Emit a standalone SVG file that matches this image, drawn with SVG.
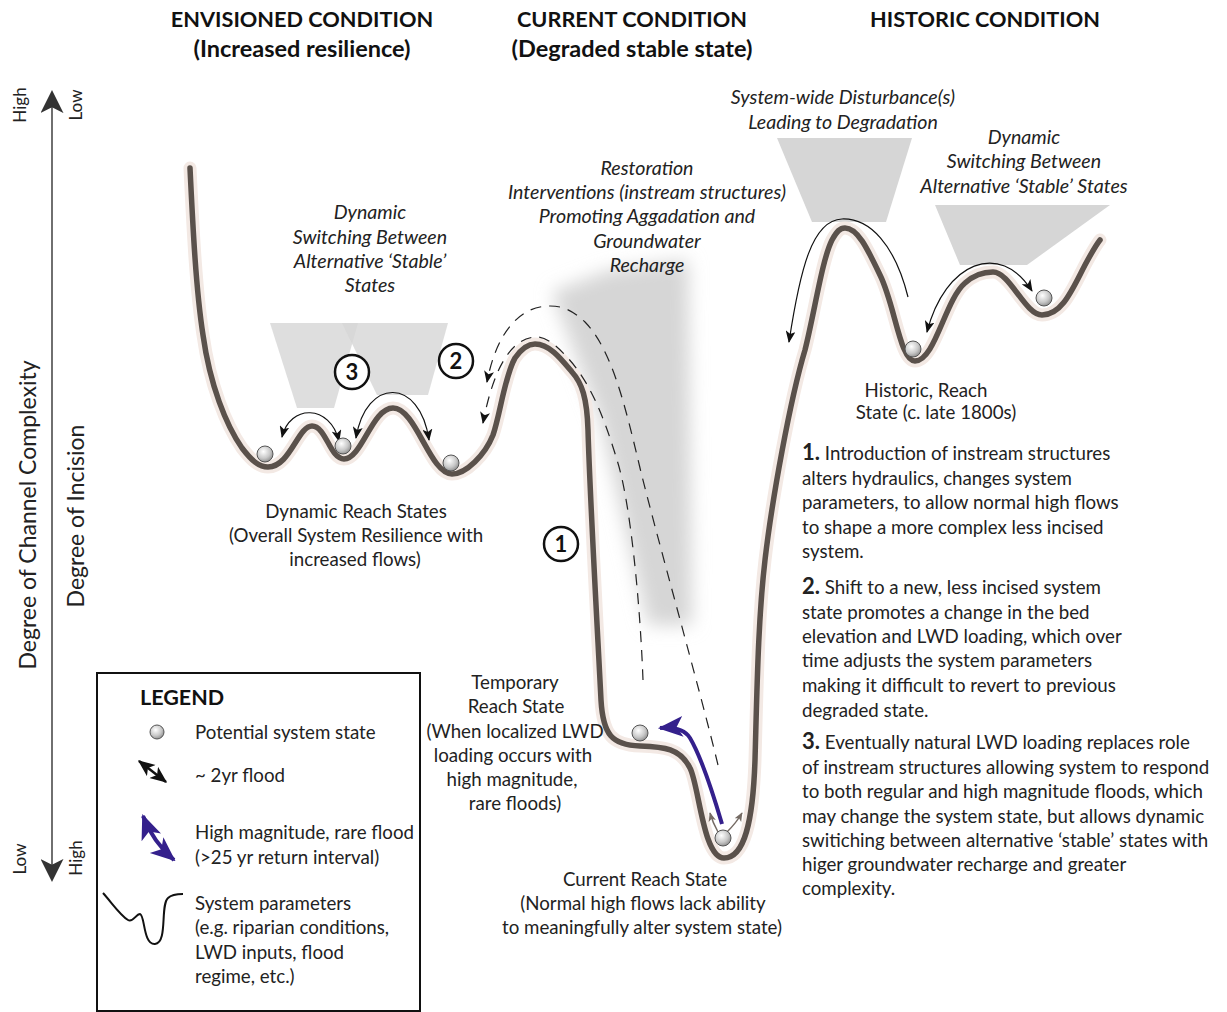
<svg xmlns="http://www.w3.org/2000/svg" width="1227" height="1012" viewBox="0 0 1227 1012">
<style>
.t{font-family:Lato,"Liberation Sans",sans-serif;font-size:18.7px;fill:#222}
.c{text-anchor:middle}
.i{font-style:italic;font-size:19.6px}
.h{font-family:Lato,"Liberation Sans",sans-serif;font-size:21.7px;font-weight:bold;fill:#111;text-anchor:middle}
.h2{font-size:23.5px}
.b{font-weight:bold;font-size:22px}
.ax{font-family:Lato,"Liberation Sans",sans-serif;font-size:23px;fill:#222;text-anchor:middle}
.sm{font-family:Lato,"Liberation Sans",sans-serif;font-size:17px;fill:#222;text-anchor:middle}
.shade{fill:#d6d6d6}
.arc{fill:none;stroke:#111;stroke-width:1.2}
.dash{fill:none;stroke:#222;stroke-width:1.2;stroke-dasharray:11 8}
.ball{fill:url(#bg);stroke:#555;stroke-width:1}
.num{fill:#fff;stroke:#111;stroke-width:2.5}
.nt{font-family:Lato,"Liberation Sans",sans-serif;font-size:22px;font-weight:bold;fill:#111;text-anchor:middle}
</style>
<defs>
<radialGradient id="bg" cx="0.4" cy="0.35" r="0.7">
<stop offset="0" stop-color="#ffffff"/>
<stop offset="0.6" stop-color="#c8c8c8"/>
<stop offset="1" stop-color="#8a8a8a"/>
</radialGradient>
<filter id="blur" x="-30%" y="-30%" width="160%" height="160%"><feGaussianBlur stdDeviation="9"/></filter>
<marker id="ah" markerUnits="userSpaceOnUse" viewBox="0 0 12 10" refX="11" refY="5" markerWidth="12" markerHeight="10" orient="auto-start-reverse">
<path d="M0,0 L12,5 L0,10 L3,5 z" fill="#111"/>
</marker>
<marker id="ahs" markerUnits="userSpaceOnUse" viewBox="0 0 12 10" refX="11" refY="5" markerWidth="9" markerHeight="8" orient="auto">
<path d="M0,0 L12,5 L0,10 L3,5 z" fill="#756b64"/>
</marker>
<marker id="ahL" markerUnits="userSpaceOnUse" viewBox="0 0 12 10" refX="11" refY="5" markerWidth="17" markerHeight="15" orient="auto-start-reverse">
<path d="M0,0 L12,5 L0,10 L3,5 z" fill="#111"/>
</marker>
<marker id="ahp" markerUnits="userSpaceOnUse" viewBox="0 0 12 10" refX="11" refY="5" markerWidth="25" markerHeight="25" orient="auto-start-reverse">
<path d="M0,0 L12,5 L0,10 L3,5 z" fill="#34208c"/>
</marker>
<marker id="axh" markerUnits="userSpaceOnUse" viewBox="0 0 12 12" refX="11" refY="6" markerWidth="23" markerHeight="23" orient="auto-start-reverse">
<path d="M0,0 L12,6 L0,12 L3,6 z" fill="#333"/>
</marker>
</defs>
<rect width="1227" height="1012" fill="#fff"/>

<g id="shading">
<polygon class="shade" points="270,323 358,323 334,408 297,408" opacity="0.8"/>
<polygon class="shade" points="342,323 448,323 428,395 377,395" opacity="0.8"/>
<polygon class="shade" points="552,292 610,270 688,260 692,625 648,625 600,420" filter="url(#blur)"/>
<polygon class="shade" points="777,138 912,138 886,222 812,222"/>
<polygon class="shade" points="935,205 1110,205 1027,265 960,265"/>
</g>

<g id="axis">
<line x1="52" y1="92" x2="52" y2="880" stroke="#222" stroke-width="1.3" marker-start="url(#axh)" marker-end="url(#axh)"/>
<text class="sm" transform="translate(26,105) rotate(-90)">High</text>
<text class="sm" transform="translate(82,105) rotate(-90)">Low</text>
<text class="sm" transform="translate(26,859) rotate(-90)">Low</text>
<text class="sm" transform="translate(82,858) rotate(-90)">High</text>
<text class="ax" transform="translate(36,515) rotate(-90)">Degree of Channel Complexity</text>
<text class="ax" transform="translate(84,516) rotate(-90)">Degree of Incision</text>
</g>

<g id="headers">
<text class="h" x="302" y="27">ENVISIONED CONDITION</text>
<text class="h h2" x="302" y="57">(Increased resilience)</text>
<text class="h" x="632" y="27">CURRENT CONDITION</text>
<text class="h h2" x="632" y="57">(Degraded stable state)</text>
<text class="h" x="985" y="27">HISTORIC CONDITION</text>
</g>

<g id="landscape">
<path d="M190,168 C193,230 196,290 203,335 C210,385 226,425 242,448 C252,461 259,467 268,467 C290,467 298,426 312,426 C326,426 330,459 344,459 C362,459 372,408 393,408 C416,408 430,474 452,474 C466,474 485,455 493,435 C500,415 505,375 515,358 C522,348 528,344 535,344 C550,344 562,360 572,372 C582,383 587,398 588,430 C590,500 598,640 601,700 C603,735 612,745 640,746 C664,747 680,748 690,768 C699,785 703,858 724,858 C745,858 753,820 755,760 C757,690 758,620 765,560 C772,500 790,400 805,350 C815,310 822,260 832,240 C837,231 840,228 845,228 C858,228 868,250 880,275 C895,305 900,361 915,361 C935,361 945,300 965,283 C975,274 985,272 993,272 C1010,272 1025,315 1042,315 C1062,315 1072,290 1085,265 C1092,252 1096,245 1100,240" fill="none" stroke="#f3e9e4" stroke-width="13" stroke-linecap="round"/>
<path d="M190,168 C193,230 196,290 203,335 C210,385 226,425 242,448 C252,461 259,467 268,467 C290,467 298,426 312,426 C326,426 330,459 344,459 C362,459 372,408 393,408 C416,408 430,474 452,474 C466,474 485,455 493,435 C500,415 505,375 515,358 C522,348 528,344 535,344 C550,344 562,360 572,372 C582,383 587,398 588,430 C590,500 598,640 601,700 C603,735 612,745 640,746 C664,747 680,748 690,768 C699,785 703,858 724,858 C745,858 753,820 755,760 C757,690 758,620 765,560 C772,500 790,400 805,350 C815,310 822,260 832,240 C837,231 840,228 845,228 C858,228 868,250 880,275 C895,305 900,361 915,361 C935,361 945,300 965,283 C975,274 985,272 993,272 C1010,272 1025,315 1042,315 C1062,315 1072,290 1085,265 C1092,252 1096,245 1100,240" fill="none" stroke="#5a514b" stroke-width="5.5" stroke-linecap="round"/>
</g>

<g id="connectors">
<path class="arc" d="M282,437 C290,404 330,404 339,441" marker-start="url(#ah)" marker-end="url(#ah)"/>
<path class="arc" d="M356,438 C366,377 420,377 429,440" marker-start="url(#ah)" marker-end="url(#ah)"/>
<path class="arc" d="M927,332 C945,262 1000,240 1032,291" marker-start="url(#ah)" marker-end="url(#ah)"/>
<path class="arc" d="M908,297 C895,245 870,218 842,219 C812,220 800,270 789,342" marker-end="url(#ah)"/>
<path class="dash" d="M718,765 C700,690 655,530 640,468 C625,405 612,350 585,322 C570,308 560,306 550,306 C515,306 495,340 487,382" marker-end="url(#ah)"/>
<path class="dash" d="M643,680 C640,600 630,500 617,460 C605,420 590,380 565,355 C555,344 545,337 537,337 C515,337 495,360 483,423" marker-end="url(#ah)"/>
<path d="M722,824 C712,790 700,755 690,738 C685,730 675,727 660,728" fill="none" stroke="#34208c" stroke-width="4" marker-end="url(#ahp)"/>
<path d="M718,832 C714,825 712,820 710,813" fill="none" stroke="#756b64" stroke-width="1.5" marker-end="url(#ahs)"/>
<path d="M727,832 C733,826 738,820 742,813" fill="none" stroke="#756b64" stroke-width="1.5" marker-end="url(#ahs)"/>
</g>

<g id="states">
<circle class="ball" cx="265" cy="454" r="8"/>
<circle class="ball" cx="343" cy="446" r="8"/>
<circle class="ball" cx="451" cy="463" r="8"/>
<circle class="ball" cx="640" cy="733" r="8"/>
<circle class="ball" cx="723" cy="838" r="8"/>
<circle class="ball" cx="913" cy="349" r="8"/>
<circle class="ball" cx="1044" cy="298" r="8"/>
</g>

<g id="num3"><circle class="num" cx="352" cy="372" r="17"/><text class="nt" x="352" y="380">3</text></g>
<g id="num2"><circle class="num" cx="456" cy="361" r="17"/><text class="nt" x="456" y="369">2</text></g>
<g id="num1"><circle class="num" cx="561" cy="544" r="17"/><text class="nt" x="561" y="552">1</text></g>

<g id="label-dyn-left" class="t c i">
<text x="370" y="219">Dynamic</text>
<text x="370" y="244">Switching Between</text>
<text x="370" y="268">Alternative ‘Stable’</text>
<text x="370" y="292">States</text>
</g>
<g id="label-restoration" class="t c i">
<text x="647" y="175">Restoration</text>
<text x="647" y="199">Interventions (instream structures)</text>
<text x="647" y="223">Promoting Aggadation and</text>
<text x="647" y="248">Groundwater</text>
<text x="647" y="272">Recharge</text>
</g>
<g id="label-disturbance" class="t c i">
<text x="843" y="104">System-wide Disturbance(s)</text>
<text x="843" y="129">Leading to Degradation</text>
</g>
<g id="label-dyn-right" class="t c i">
<text x="1024" y="144">Dynamic</text>
<text x="1024" y="168">Switching Between</text>
<text x="1024" y="193">Alternative ‘Stable’ States</text>
</g>
<g id="label-historic" class="t c">
<text x="926" y="397">Historic, Reach</text>
<text x="936" y="419">State (c. late 1800s)</text>
</g>
<g id="label-dynamic-reach" class="t c">
<text x="356" y="518">Dynamic Reach States</text>
<text x="356" y="542">(Overall System Resilience with</text>
<text x="355" y="566">increased flows)</text>
</g>
<g id="label-temporary" class="t c">
<text x="515" y="689">Temporary</text>
<text x="516" y="713">Reach State</text>
<text x="515" y="738">(When localized LWD</text>
<text x="513" y="762">loading occurs with</text>
<text x="512" y="786">high magnitude,</text>
<text x="515" y="810">rare floods)</text>
</g>
<g id="label-current" class="t c">
<text x="645" y="886">Current Reach State</text>
<text x="643" y="910">(Normal high flows lack ability</text>
<text x="642" y="934">to meaningfully alter system state)</text>
</g>

<g id="notes" class="t">
<text x="802" y="460"><tspan class="b">1.</tspan> Introduction of instream structures</text>
<text x="802" y="485">alters hydraulics, changes system</text>
<text x="802" y="509">parameters, to allow normal high flows</text>
<text x="802" y="534">to shape a more complex less incised</text>
<text x="802" y="558">system.</text>
<text x="802" y="594"><tspan class="b">2.</tspan> Shift to a new, less incised system</text>
<text x="802" y="619">state promotes a change in the bed</text>
<text x="802" y="643">elevation and LWD loading, which over</text>
<text x="802" y="667">time adjusts the system parameters</text>
<text x="802" y="692">making it difficult to revert to previous</text>
<text x="802" y="717">degraded state.</text>
<text x="802" y="749"><tspan class="b">3.</tspan> Eventually natural LWD loading replaces role</text>
<text x="802" y="774">of instream structures allowing system to respond</text>
<text x="802" y="798">to both regular and high magnitude floods, which</text>
<text x="802" y="823">may change the system state, but allows dynamic</text>
<text x="802" y="847">switiching between alternative ‘stable’ states with</text>
<text x="802" y="871">higer groundwater recharge and greater</text>
<text x="802" y="895">complexity.</text>
</g>

<g id="legend">
<rect x="97" y="673" width="323" height="338" fill="#fff" stroke="#111" stroke-width="2"/>
<text class="t" x="140" y="705" style="font-weight:bold;font-size:21.5px;fill:#111">LEGEND</text>
<circle class="ball" cx="157" cy="732" r="7"/>
<text class="t" x="195" y="739">Potential system state</text>
<path d="M139,761 L166,782" fill="none" stroke="#111" stroke-width="2.5" marker-start="url(#ahL)" marker-end="url(#ahL)"/>
<text class="t" x="195" y="782">~ 2yr flood</text>
<path d="M143,816 C150,834 160,848 174,860" fill="none" stroke="#34208c" stroke-width="4" marker-start="url(#ahp)" marker-end="url(#ahp)"/>
<text class="t" x="195" y="839">High magnitude, rare flood</text>
<text class="t" x="195" y="864">(&gt;25 yr return interval)</text>
<path d="M103,893 C112,903 120,915 128,920 C133,923 136,914 140,914 C145,915 143,945 155,944 C168,943 160,905 168,898 C171,895 175,894 183,894" fill="none" stroke="#111" stroke-width="2"/>
<text class="t" x="195" y="910">System parameters</text>
<text class="t" x="195" y="934">(e.g. riparian conditions,</text>
<text class="t" x="195" y="959">LWD inputs, flood</text>
<text class="t" x="195" y="983">regime, etc.)</text>
</g>
</svg>
